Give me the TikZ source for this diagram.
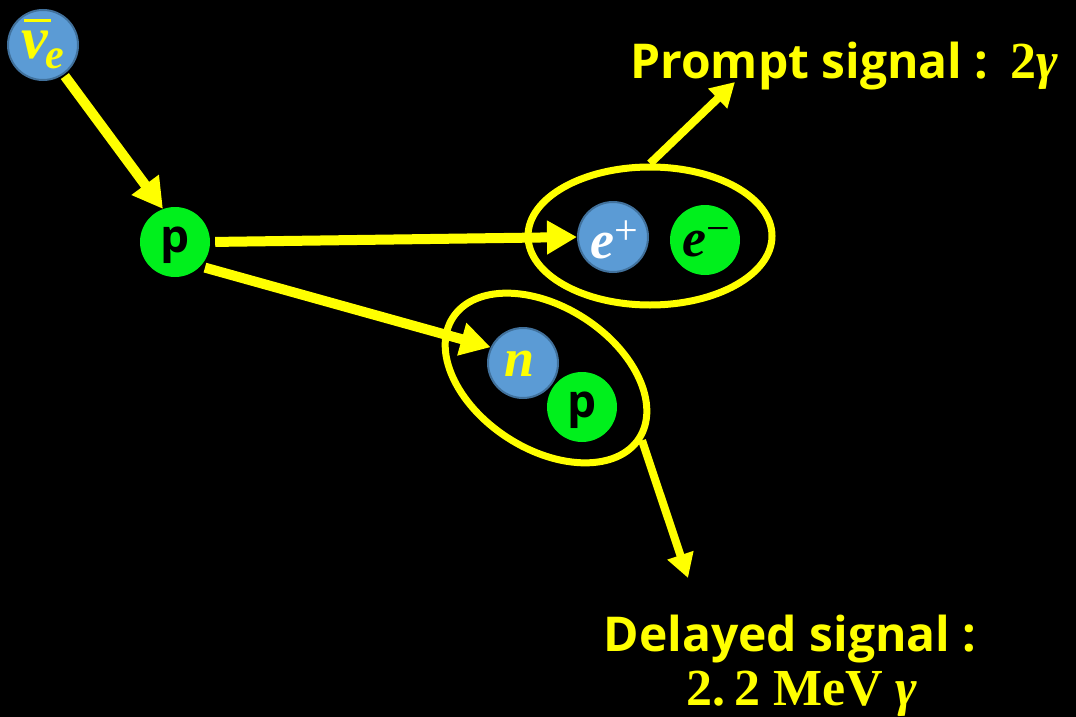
\documentclass[tikz,border=0pt]{standalone}
\usepackage{fontspec}
\setmainfont{Open Sans}
\newfontfamily\mathserif{Liberation Serif}
\usetikzlibrary{arrows.meta,shapes.geometric}
\definecolor{sigyellow}{HTML}{FFFF00}
\definecolor{protongreen}{HTML}{00F01C}
\definecolor{leptonblue}{HTML}{5B9BD5}
\definecolor{leptonrim}{HTML}{41719C}
\newcommand\setpx[1]{\fontsize{#1}{#1}\selectfont}
\tikzset{
  particle/.style={circle, minimum size=70pt, inner sep=0pt},
  bluepart/.style={particle, fill=leptonblue, draw=leptonrim, line width=2pt},
  greenpart/.style={particle, fill=protongreen},
  track/.style={draw=sigyellow, line width=10pt,
    -{Triangle[length=30pt,width=32pt]}},
  sigtrack/.style={draw=sigyellow, line width=8pt,
    -{Triangle[length=24pt,width=26pt]}},
  pairloop/.style={ellipse, draw=sigyellow, line width=7pt, inner sep=0pt},
  sigtext/.style={text=sigyellow, font=\bfseries\setpx{48}, inner sep=0pt},
}
\begin{document}
\begin{tikzpicture}[x=1pt,y=-1pt]
\fill[black] (0,0) rectangle (1076,717);
\useasboundingbox (0,0) rectangle (1076,717);

% particles
\node[bluepart] (nu) at (43,45) {};
\node[text=sigyellow, inner sep=0pt] (nulab) at (43,44)
  {\mathserif\bfseries\itshape\setpx{60}\rlap{\hspace{3pt}\raisebox{36pt}{\rule{27pt}{3pt}}}ν\hspace{-2pt}\raisebox{-10pt}{\setpx{42}e}};
\node[greenpart] (p1) at (175,242) {};
\node[inner sep=0pt] (p1lab) at (175,245) {\bfseries\setpx{46}p};
\node[bluepart] (ep) at (613,237) {};
\node[text=white, inner sep=0pt] (eplab) at (614,240)
  {\mathserif\bfseries\itshape\setpx{54}e\raisebox{14pt}{\upshape\mdseries\setpx{42}+}};
\node[greenpart] (em) at (705,240) {};
\node[text=black, inner sep=0pt] (emlab) at (706,242)
  {\mathserif\bfseries\itshape\setpx{54}e\raisebox{14pt}{\upshape\mdseries\setpx{42}−}};
\node[bluepart] (n) at (523,363) {};
\node[text=sigyellow, inner sep=0pt] (nlab) at (520,364)
  {\mathserif\bfseries\itshape\setpx{54}n};
\node[greenpart] (p2) at (582,407) {};
\node[inner sep=0pt] (p2lab) at (582,410) {\bfseries\setpx{46}p};

% coincident pairs
\node[pairloop, minimum width=244pt, minimum height=138pt] (pair1) at (650,236) {};
\node[pairloop, minimum width=222pt, minimum height=142pt, rotate=-33] (pair2) at (546,378) {};

% tracks
\draw[track, shorten <=2pt] (nu.-55) -- (p1.110);
\draw[track, shorten <=5pt] (p1.east) -- (ep.west);
\draw[track] ([xshift=3pt,yshift=-3pt]p1.-40) -- (n.154);

% signal outputs
\coordinate (promptTip) at (735,82);
\coordinate (delayTip) at (688,578);
\draw[sigtrack] (pair1.north) -- (promptTip);
\draw[sigtrack] (pair2.east) -- (delayTip);

\node[sigtext, anchor=base west] (prompt) at (630,78)
  {Prompt signal :\hspace{22pt}{\mathserif\bfseries\setpx{52}2\itshape γ}};
\node[sigtext, anchor=base] (delayed) at (790,651) {Delayed signal :};
\node[sigtext, anchor=base] (energy) at (802,705)
  {\mathserif\bfseries\setpx{52}2.\,2 MeV \itshape γ};
\end{tikzpicture}
\end{document}
